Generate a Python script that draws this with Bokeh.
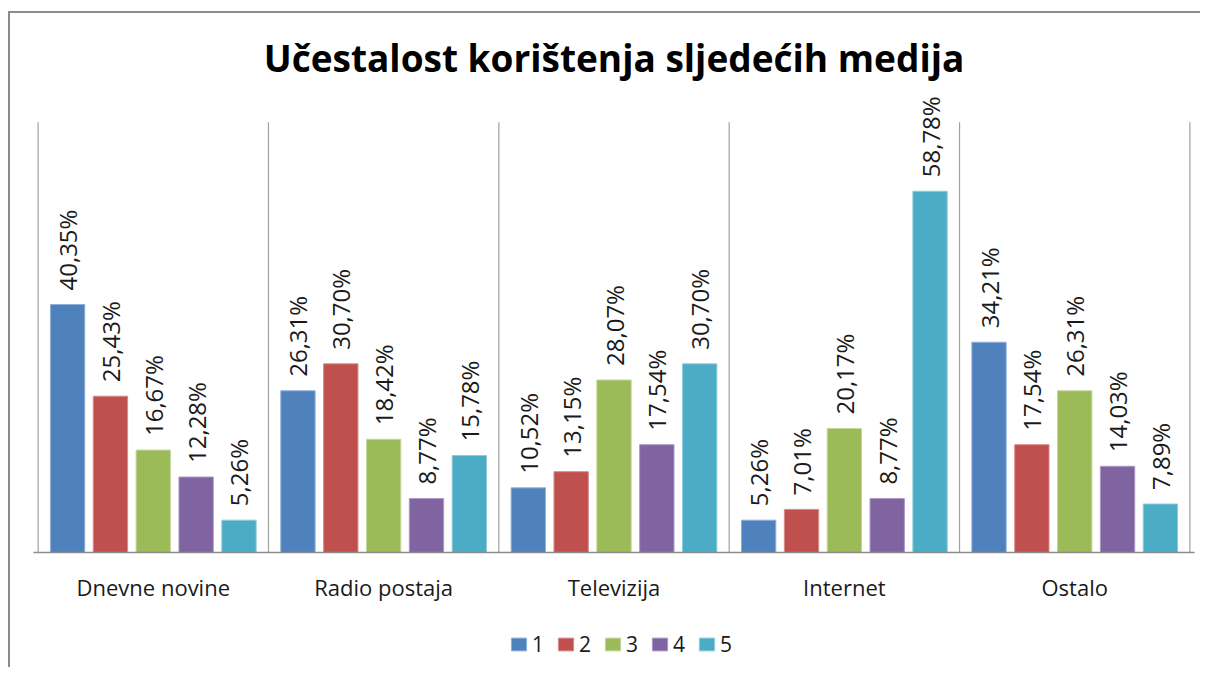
import math
from bokeh.plotting import figure
from bokeh.layouts import column
from bokeh.models import ColumnDataSource, FactorRange, Range1d, Legend, LegendItem
from bokeh.transform import dodge
from bokeh.core.properties import value
from bokeh.embed import file_html
from bokeh.resources import INLINE

# ---- data ----
categories = ["Dnevne novine", "Radio postaja", "Televizija", "Internet", "Ostalo"]
series_names = ["1", "2", "3", "4", "5"]
s1 = [40.35, 26.31, 10.52, 5.26, 34.21]
s2 = [25.43, 30.70, 13.15, 7.01, 17.54]
s3 = [16.67, 18.42, 28.07, 20.17, 26.31]
s4 = [12.28, 8.77, 17.54, 8.77, 14.03]
s5 = [5.26, 15.78, 30.70, 58.78, 7.89]
series_values = [s1, s2, s3, s4, s5]
title_text = "Učestalost korištenja sljedećih medija"
axis_max = 70

# ---- styles ----
colors = ["#4F81BD", "#C0504D", "#9BBB59", "#8064A2", "#4BACC6"]
edge_colors = ["#8fb0d8", "#d98a88", "#c3d79a", "#ab98c4", "#8ccbdc"]
offsets = [-0.372, -0.186, 0.0, 0.186, 0.372]
bar_width = 0.149
FONT = "Open Sans"
BORDER = "#8c8c8c"

x_range = FactorRange(factors=categories, range_padding=0.02, range_padding_units="absolute")
p = figure(x_range=x_range, y_range=Range1d(0, 75.5), width=1200, height=617,
           output_backend="svg", toolbar_location=None, y_axis_location=None,
           min_border_left=33, min_border_right=6, min_border_top=88, min_border_bottom=65)
p.styles = {"background": f"linear-gradient({BORDER},{BORDER}) 8px 11px / 2px 100% no-repeat, "
                          f"linear-gradient({BORDER},{BORDER}) 8px 11px / 100% 2px no-repeat, #ffffff"}

p.title.text = title_text
p.title.align = "center"
p.title.text_font = FONT
p.title.text_font_size = "37px"
p.title.text_font_style = "bold"
p.title.text_color = "#000000"
p.title.standoff = 12

p.xgrid.grid_line_color = None
p.ygrid.grid_line_color = None
p.outline_line_color = None
p.background_fill_alpha = 0
p.border_fill_alpha = 0

# separators between categories
sep_x = list(range(len(categories) + 1))
p.segment(x0=sep_x, y0=[0] * len(sep_x), x1=sep_x, y1=[axis_max] * len(sep_x),
          line_color="#a0a0a0", line_width=1.2)

for i, (name, vals) in enumerate(zip(series_names, series_values)):
    src = ColumnDataSource(dict(
        cat=categories,
        val=vals,
        lab=[f"{v:.2f}".replace(".", ",") + "%" for v in vals],
    ))
    p.vbar(x=dodge("cat", offsets[i], range=p.x_range), top="val", width=bar_width,
           source=src, fill_color=colors[i], line_color=edge_colors[i], line_width=1)
    p.text(x=dodge("cat", offsets[i], range=p.x_range), y="val", text="lab", source=src,
           angle=math.pi / 2, text_align="left", text_baseline="middle",
           x_offset=0, y_offset=-14,
           text_font=value(FONT), text_font_size="24px", text_color="#1a1a1a")

xa = p.xaxis[0]
xa.axis_line_color = BORDER
xa.axis_line_width = 1.5
xa.major_tick_line_color = None
xa.minor_tick_line_color = None
xa.major_tick_out = 0
xa.major_tick_in = 0
xa.major_label_standoff = 19
xa.major_label_text_font = FONT
xa.major_label_text_font_size = "22px"
xa.major_label_text_color = "#1a1a1a"

# ---- legend strip (same series; bars fall outside its view, only the swatches show) ----
p2 = figure(x_range=FactorRange(factors=categories), y_range=Range1d(1000, 1001),
            width=1200, height=50, output_backend="svg", toolbar_location=None,
            x_axis_location=None, y_axis_location=None,
            min_border_left=0, min_border_right=0, min_border_top=0, min_border_bottom=0)
p2.styles = {"background": f"linear-gradient({BORDER},{BORDER}) 8px 0 / 2px 100% no-repeat, #ffffff"}
p2.xgrid.grid_line_color = None
p2.ygrid.grid_line_color = None
p2.outline_line_color = None
p2.background_fill_alpha = 0
p2.border_fill_alpha = 0

items = []
for i, (name, vals) in enumerate(zip(series_names, series_values)):
    r = p2.vbar(x=categories, top=vals, width=bar_width,
                fill_color=colors[i], line_color=edge_colors[i], line_width=1)
    items.append(LegendItem(label=name, renderers=[r]))

legend = Legend(items=items, orientation="horizontal", location=(476, 9),
                glyph_width=19, glyph_height=16, label_standoff=4, spacing=12,
                label_width=12, label_height=16,
                label_text_font=FONT, label_text_font_size="21px", label_text_color="#1a1a1a",
                border_line_color=None, background_fill_alpha=0, margin=0, padding=5)
p2.add_layout(legend, "center")

open("out.html", "w").write(file_html(column(p, p2, spacing=0), INLINE))
